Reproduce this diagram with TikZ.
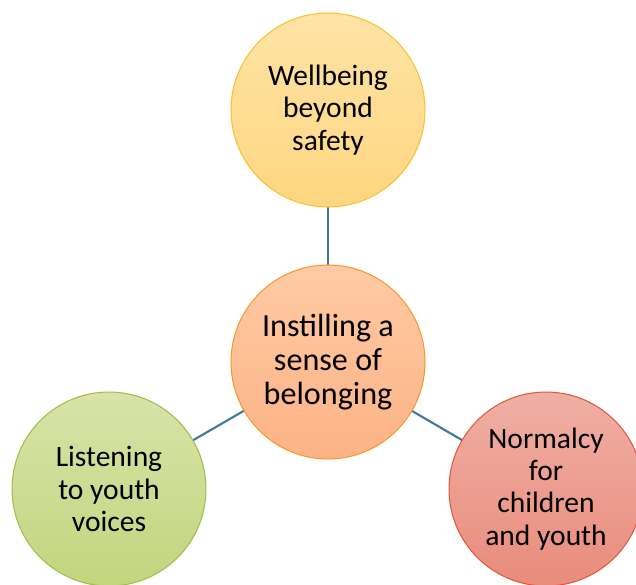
\documentclass[tikz,border=0pt]{standalone}
\usepackage{fontspec}
\setmainfont{Carlito}
\definecolor{linkblue}{HTML}{3F7A9E}
\definecolor{goldtop}{HTML}{FEE4A6}
\definecolor{goldbot}{HTML}{FED680}
\definecolor{goldline}{HTML}{F8C232}
\definecolor{peachtop}{HTML}{FFCBA4}
\definecolor{peachbot}{HTML}{FCB285}
\definecolor{peachline}{HTML}{F39A2E}
\definecolor{olivetop}{HTML}{D8E3A8}
\definecolor{olivebot}{HTML}{C3D57E}
\definecolor{oliveline}{HTML}{A3BE4E}
\definecolor{rosetop}{HTML}{F0AFA4}
\definecolor{rosebot}{HTML}{E98C7C}
\definecolor{roseline}{HTML}{E2583C}
\tikzset{
  bubble/.style={circle,minimum size=3.88cm,inner sep=0pt,line width=0.6pt,
    align=center,font=\fontsize{16.8}{18.3}\selectfont},
  link/.style={linkblue,line width=1.2pt}
}

\begin{document}
\begin{tikzpicture}[x=0.02cm,y=-0.02cm]
\clip (0,0) rectangle (636,585);

\draw[link] (328,110) -- (328,362);
\draw[link] (109,489) -- (328,362) -- (546,489);

\node[bubble,draw=goldline,top color=goldtop,bottom color=goldbot] (well) at (328,110)
  {Wellbeing\\beyond\\safety};
\node[bubble,draw=peachline,top color=peachtop,bottom color=peachbot,
  font=\fontsize{18.3}{19.4}\selectfont] (belong) at (328,362)
  {Instilling a\\sense of\\belonging};
\node[bubble,draw=oliveline,top color=olivetop,bottom color=olivebot] (listen) at (109,489)
  {Listening\\to youth\\voices};
\node[bubble,draw=roseline,top color=rosetop,bottom color=rosebot] (normal) at (546,489)
  {Normalcy\\for\\children\\and youth};
\end{tikzpicture}
\end{document}
